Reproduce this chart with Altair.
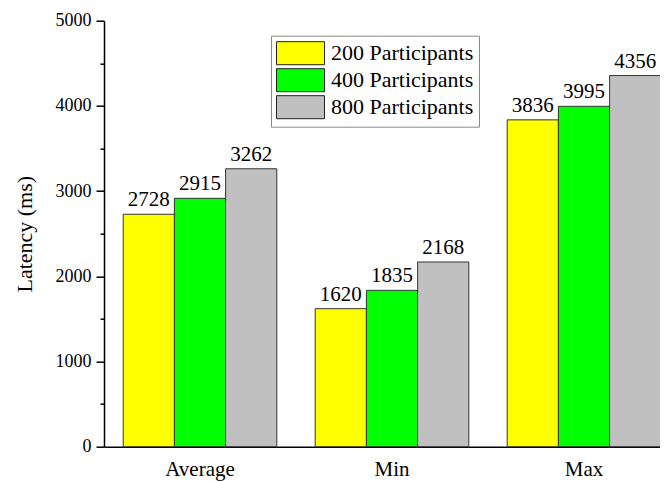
import altair as alt
import pandas as pd

categories = ["Average", "Min", "Max"]
series = ["200 Participants", "400 Participants", "800 Participants"]
v200 = [2728, 1620, 3836]
v400 = [2915, 1835, 3995]
v800 = [3262, 2168, 4356]
colors = ["#FFFF00", "#00FF00", "#C0C0C0"]
y_ticks = [0, 500, 1000, 1500, 2000, 2500, 3000, 3500, 4000, 4500, 5000]

rows = []
for s, vals in zip(series, [v200, v400, v800]):
    for c, v in zip(categories, vals):
        rows.append({"category": c, "series": s, "value": v})
df = pd.DataFrame(rows)

FONT = "Liberation Serif, Times New Roman, serif"

x_scale = alt.Scale(paddingInner=0.2, paddingOuter=0.1, range=[0, 576])
x_enc = alt.X(
    "category:N",
    sort=categories,
    scale=x_scale,
    axis=alt.Axis(
        title=None, ticks=False, labelAngle=0, labelFontSize=21, labelFont=FONT,
        labelColor="black", labelPadding=12, domainColor="black", domainWidth=1.5,
    ),
)
xoff = alt.XOffset("series:N", sort=series, scale=alt.Scale(paddingInner=0, paddingOuter=0))
y_enc = alt.Y(
    "value:Q",
    scale=alt.Scale(domain=[0, 5000], nice=False),
    axis=alt.Axis(
        values=y_ticks,
        labelExpr="datum.value % 1000 === 0 ? datum.label : ''",
        tickSize={"condition": {"test": "datum.value % 1000 === 0", "value": 8}, "value": 4},
        format="d",
        grid=False,
        title="Latency (ms)",
        titleFont=FONT, titleFontSize=22, titleFontWeight="normal", titleColor="black",
        titlePadding=19,
        labelFont=FONT, labelFontSize=18, labelColor="black", labelPadding=5,
        domainColor="black", domainWidth=1.5, tickColor="black", tickWidth=1.5,
    ),
)

bars = alt.Chart(df).mark_bar(stroke="#333333", strokeWidth=1).encode(
    x=x_enc,
    xOffset=xoff,
    y=y_enc,
    color=alt.Color(
        "series:N",
        sort=series,
        scale=alt.Scale(domain=series, range=colors),
        legend=alt.Legend(
            title=None, orient="none", legendX=167, legendY=15,
            symbolType="M-1,-0.96H3V0.96H-1Z", symbolSize=576,
            symbolStrokeColor="#222222", symbolStrokeWidth=1, symbolOpacity=1,
            labelFont=FONT, labelFontSize=22, labelColor="black", labelOffset=30,
            strokeColor="#888888", padding=5, rowPadding=-2, fillColor="white",
        ),
    ),
)

text = alt.Chart(df).mark_text(
    font=FONT, fontSize=21, color="black", baseline="alphabetic", dy=-8
).encode(
    x=alt.X("category:N", sort=categories, scale=x_scale),
    xOffset=xoff,
    y=alt.Y("value:Q"),
    text=alt.Text("value:Q", format="d"),
)

chart = alt.layer(bars, text).properties(
    width=556, height=426,
    autosize=alt.AutoSizeParams(type="none"),
    padding={"left": 96, "top": 12.7, "right": 0, "bottom": 36},
).configure(font=FONT).configure_view(stroke=None)

chart.save("out.html", embed_options={"renderer": "svg", "actions": False})
